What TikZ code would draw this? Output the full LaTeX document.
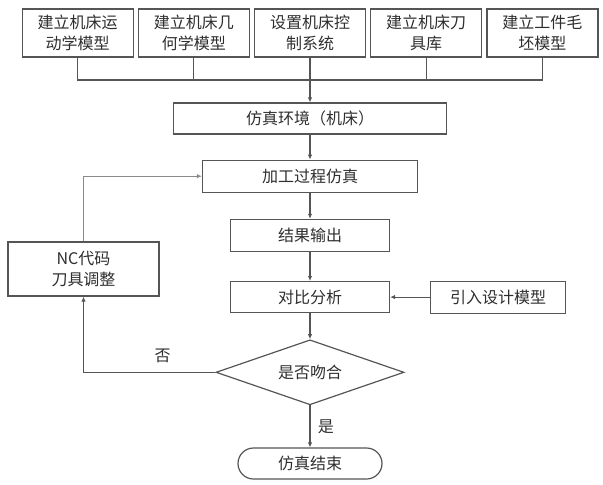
\documentclass[tikz,border=0pt]{standalone}
\usepackage{fontspec}
\newfontfamily\cjk{Noto Sans CJK SC}
\usetikzlibrary{arrows.meta,positioning,shapes.geometric}
\definecolor{ink}{HTML}{2E2E2E}
\definecolor{rule}{HTML}{555555}
\definecolor{loopline}{HTML}{8A8A8A}

\tikzset{
  box/.style={draw=rule,line width=1.2pt,text=ink,align=center,inner sep=1pt,
    font=\cjk\fontsize{16}{21}\selectfont},
  topbox/.style={box,minimum width=111pt,minimum height=48pt},
  link/.style={draw=rule,line width=1.1pt},
  arrow/.style={link,-{Latex[length=5pt,width=4.5pt]}},
  lab/.style={text=ink,font=\cjk\fontsize{16}{20}\selectfont}
}

\begin{document}
\begin{tikzpicture}[x=1pt,y=1pt,node distance=4pt]
    \useasboundingbox (0,0) rectangle (603,-485);
    % top row of preparation steps
    \node[topbox] (t3) at (310,-33) {设置机床控\\制系统};
    \node[topbox,left=of t3] (t2) {建立机床几\\何学模型};
    \node[topbox,left=of t2] (t1) {建立机床运\\动学模型};
    \node[topbox,right=of t3] (t4) {建立机床刀\\具库};
    \node[topbox,right=of t4] (t5) {建立工件毛\\坯模型};
    % main column
    \node[box,minimum width=273pt,minimum height=31pt] (env) at (310,-118.5) {仿真环境（机床）};
    \node[box,minimum width=215pt,minimum height=32pt,below=25pt of env] (proc) {加工过程仿真};
    \node[box,minimum width=159pt,minimum height=32pt,below=26pt of proc] (out) {结果输出};
    \node[box,minimum width=159pt,minimum height=31pt,below=29pt of out] (cmp) {对比分析};
    \node[box,minimum width=135pt,minimum height=32pt,right=40pt of cmp] (design) {引入设计模型};
    \node[box,diamond,aspect=2.9,minimum width=188pt,minimum height=65pt,below=26pt of cmp] (fit) {是否吻合};
    \node[box,rounded corners=15.5pt,minimum width=144pt,minimum height=31pt,below=42pt of fit] (end) {仿真结束};
    \node[box,minimum width=151pt,minimum height=54pt] (nc) at (83.5,-269) {NC代码\\刀具调整};
    % bus from the top row
    \coordinate (bus) at (310,-80);
    \draw[link] (t1.south) -- (t1.south |- bus) -- (t5.south |- bus) -- (t5.south);
    \foreach \n in {t2,t4}
      \draw[link] (\n.south) -- (\n.south |- bus);
    \draw[arrow] (t3.south) -- (env.north);
    % flow
    \draw[arrow] (env) -- (proc);
    \draw[arrow] (proc) -- (out);
    \draw[arrow] (out) -- (cmp);
    \draw[arrow] (design) -- (cmp);
    \draw[arrow] (cmp) -- (fit);
    \draw[arrow] (fit) -- node[lab,right=4pt] {是} (end);
    % loop back
    \draw[arrow] (fit.west) -| node[lab,pos=0.2,above=6pt] {否} (nc.south);
    \draw[arrow,draw=loopline] (nc.north) |- (proc.west);
  \end{tikzpicture}
\end{document}
